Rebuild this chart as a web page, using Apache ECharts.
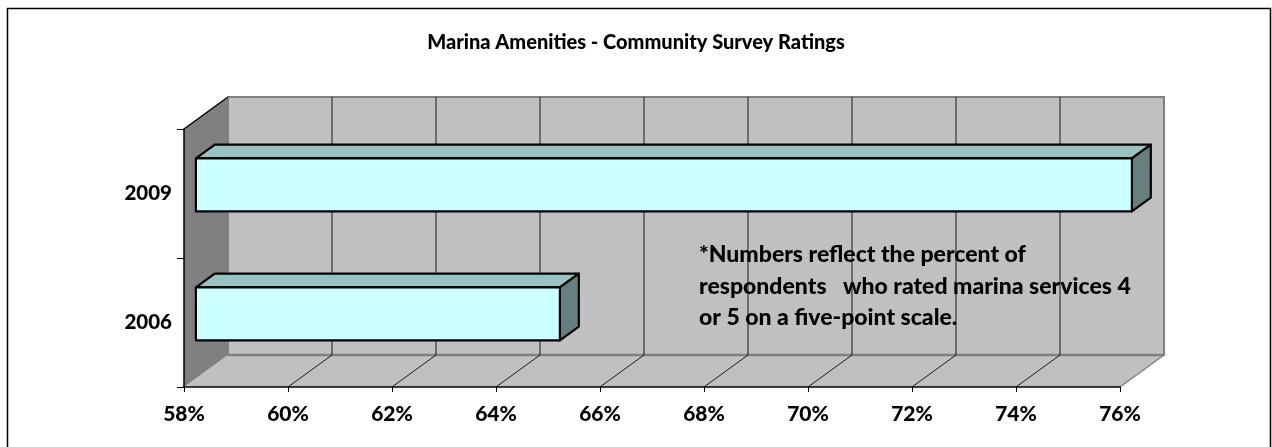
<!DOCTYPE html>
<html>
<head>
<meta charset="utf-8">
<script src="https://cdn.jsdelivr.net/npm/echarts@6/dist/echarts.min.js"></script>
<style>
  html, body { margin: 0; padding: 0; background: #ffffff; }
  #chart { width: 1272px; height: 447px; }
</style>
</head>
<body>
<div id="chart"></div>
<script>
// ---- data ----
const titleText = 'Marina Amenities - Community Survey Ratings';
const categories = ['2006', '2009'];
const ratings = [65, 76];
const xMin = 58;
const xMax = 76;
const xStep = 2;
const xTicks = [58, 60, 62, 64, 66, 68, 70, 72, 74, 76];
const noteLines = [
  '*Numbers reflect the percent of',
  'respondents   who rated marina services 4',
  'or 5 on a five-point scale.'
];

// ---- 3D look ----
const DEPTH_X = 44, DEPTH_Y = -32;
const BAR_FRONT = 0.27, BAR_BACK = 0.70;
const BAR_RATIO = 0.41;
const FONT = 'Lato, "Open Sans", sans-serif';
const WEIGHT = 900;

const chart = echarts.init(document.getElementById('chart'), null, { renderer: 'canvas' });

function wallsRender(params, api) {
  const cs = params.coordSys;
  const L = cs.x, T = cs.y, R = cs.x + cs.width, B = cs.y + cs.height;
  const children = [];
  // back wall
  children.push({ type: 'rect', shape: { x: L + DEPTH_X, y: T + DEPTH_Y, width: cs.width, height: cs.height },
    style: { fill: '#c0c0c0', stroke: '#808080', lineWidth: 2 } });
  // floor
  children.push({ type: 'polygon', shape: { points: [[L, B], [L + DEPTH_X, B + DEPTH_Y], [R + DEPTH_X, B + DEPTH_Y], [R, B]] },
    style: { fill: '#c0c0c0', stroke: null } });
  children.push({ type: 'line', shape: { x1: L + DEPTH_X, y1: B + DEPTH_Y, x2: R + DEPTH_X, y2: B + DEPTH_Y },
    style: { stroke: '#808080', lineWidth: 2.5 } });
  children.push({ type: 'line', shape: { x1: R, y1: B, x2: R + DEPTH_X, y2: B + DEPTH_Y },
    style: { stroke: '#808080', lineWidth: 1.5 } });
  // left wall
  children.push({ type: 'polygon', shape: { points: [[L, T], [L + DEPTH_X, T + DEPTH_Y], [L + DEPTH_X, B + DEPTH_Y], [L, B]] },
    style: { fill: '#808080', stroke: null } });
  children.push({ type: 'line', shape: { x1: L, y1: T, x2: L + DEPTH_X, y2: T + DEPTH_Y },
    style: { stroke: '#000', lineWidth: 1.5 } });
  // gridlines
  xTicks.forEach(function (t) {
    if (t === xMin || t === xMax) return;
    const x = api.coord([t, 0])[0];
    children.push({ type: 'line', shape: { x1: x + DEPTH_X, y1: T + DEPTH_Y, x2: x + DEPTH_X, y2: B + DEPTH_Y },
      style: { stroke: '#1a1a1a', lineWidth: 1 } });
    children.push({ type: 'line', shape: { x1: x, y1: B, x2: x + DEPTH_X, y2: B + DEPTH_Y },
      style: { stroke: '#1a1a1a', lineWidth: 1 } });
  });
  return { type: 'group', children: children };
}

function barRender(params, api) {
  const v = api.value(0);
  const cat = api.value(1);
  const p0 = api.coord([xMin, cat]);
  const p1 = api.coord([v, cat]);
  const h = api.size([0, 1])[1] * BAR_RATIO;
  const ox = DEPTH_X * BAR_FRONT, oy = DEPTH_Y * BAR_FRONT;
  const dx = DEPTH_X * (BAR_BACK - BAR_FRONT), dy = DEPTH_Y * (BAR_BACK - BAR_FRONT);
  const x0 = p0[0] + ox, x1 = p1[0] + ox;
  const yT = p1[1] + oy - h / 2, yB = yT + h;
  const edge = { stroke: '#000', lineWidth: 2.2, lineJoin: 'round' };
  return {
    type: 'group',
    children: [
      { type: 'polygon', shape: { points: [[x0, yT], [x1, yT], [x1 + dx, yT + dy], [x0 + dx, yT + dy]] },
        style: Object.assign({ fill: '#99c3c1' }, edge) },
      { type: 'polygon', shape: { points: [[x1, yT], [x1 + dx, yT + dy], [x1 + dx, yB + dy], [x1, yB]] },
        style: Object.assign({ fill: '#668080' }, edge) },
      { type: 'rect', shape: { x: x0, y: yT, width: x1 - x0, height: h },
        style: Object.assign({ fill: '#ccffff' }, edge) }
    ]
  };
}

const option = {
  animation: false,
  backgroundColor: '#ffffff',
  title: {
    text: titleText,
    left: 'center',
    top: 28,
    textStyle: { fontFamily: FONT, fontWeight: WEIGHT, fontSize: 20, color: '#000' }
  },
  grid: { left: 184, right: 152, top: 129, bottom: 60, containLabel: false },
  xAxis: {
    type: 'value',
    min: xMin, max: xMax, interval: xStep,
    axisLine: { show: true, lineStyle: { color: '#000', width: 1.5 } },
    axisTick: { show: true, length: 5, lineStyle: { color: '#000' } },
    splitLine: { show: false },
    axisLabel: { margin: 17, fontFamily: FONT, fontWeight: WEIGHT, fontSize: 21, color: '#000',
      formatter: function (v) { return v + '%'; } }
  },
  yAxis: {
    type: 'category',
    data: categories,
    axisLine: { show: true, lineStyle: { color: '#000', width: 1.5 } },
    axisTick: { show: true, length: 7, lineStyle: { color: '#000' } },
    axisLabel: { margin: 12, fontFamily: FONT, fontWeight: WEIGHT, fontSize: 20.5, color: '#000' }
  },
  graphic: [
    { type: 'rect', shape: { x: 7.5, y: 8.5, width: 1263, height: 460 },
      style: { fill: null, stroke: '#000', lineWidth: 1.5 }, z: 10, silent: true },
    { type: 'text', left: 699, top: 239, z: 10,
      style: { text: noteLines.join('\n'), fontFamily: FONT, fontWeight: WEIGHT, fontSize: 23,
        lineHeight: 31.5, fill: '#000' } }
  ],
  series: [
    { type: 'custom', name: 'walls', z: -1, silent: true, renderItem: wallsRender, data: [[xMin, 0]] },
    { type: 'custom', name: 'ratings', z: 3, renderItem: barRender,
      encode: { x: 0, y: 1 },
      data: ratings.map(function (v, i) { return [v, i]; }) }
  ]
};
chart.setOption(option);
</script>
</body>
</html>
